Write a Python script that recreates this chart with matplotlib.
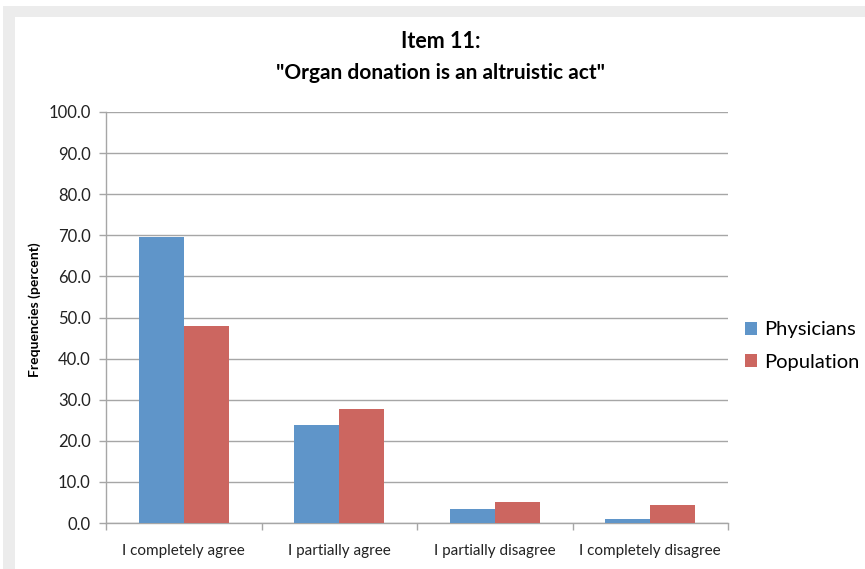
import matplotlib
matplotlib.use("Agg")
import matplotlib.pyplot as plt
import numpy as np
from matplotlib.patches import Rectangle, Patch

# Data
categories = ["I completely agree", "I partially agree",
              "I partially disagree", "I completely disagree"]
physicians = [69.7, 23.9, 3.3, 0.9]
population = [47.9, 27.7, 5.1, 4.3]
series_names = ["Physicians", "Population"]
y_ticks = [0, 10, 20, 30, 40, 50, 60, 70, 80, 90, 100]

BLUE = "#5f95c9"
RED = "#cc6660"
GRID = "#a6a6a6"

plt.rcParams["font.family"] = ["Lato", "DejaVu Sans"]

W, H = 865, 569
fig = plt.figure(figsize=(W / 100, H / 100), dpi=100)
fig.patch.set_facecolor("white")

# grey frame at top/left of the white panel
fig.patches.append(Rectangle((3 / W, 0), 1.1, 1 - 6 / H, transform=fig.transFigure,
                             facecolor="#ececec", edgecolor="none", zorder=-2))
fig.patches.append(Rectangle((15 / W, -0.1), 1.1, 1.1 - 17 / H, transform=fig.transFigure,
                             facecolor="white", edgecolor="none", zorder=-1))

ax = fig.add_axes([106 / W, 46 / H, (728 - 106) / W, (523 - 112) / H])
ax.set_facecolor("none")

x = np.arange(len(categories))
width = 0.29
ax.bar(x - width / 2, physicians, width, color=BLUE, zorder=3)
ax.bar(x + width / 2, population, width, color=RED, zorder=3)

ax.set_xlim(-0.5, len(categories) - 0.5)
ax.set_ylim(0, 100)
ax.set_yticks(y_ticks)
ax.set_yticklabels([f"{v:.1f}" for v in y_ticks], fontsize=12, color="#222222")
ax.yaxis.grid(True, color=GRID, linewidth=1, zorder=0)

# category labels between boundary ticks
ax.set_xticks(x)
ax.set_xticklabels(categories, fontsize=11, color="#222222")
ax.tick_params(axis="x", length=0, pad=15)
ax.set_xticks(np.arange(len(categories) + 1) - 0.5, minor=True)
ax.tick_params(axis="x", which="minor", length=5, color=GRID, width=1)
ax.tick_params(axis="y", length=5, color=GRID, width=1, pad=6)

for side in ["top", "right"]:
    ax.spines[side].set_visible(False)
ax.spines["left"].set_color(GRID)
ax.spines["bottom"].set_color(GRID)
ax.spines["left"].set_linewidth(1)
ax.spines["bottom"].set_linewidth(1)

ax.set_ylabel("Frequencies (percent)", fontsize=10, fontweight="bold")
ax.yaxis.set_label_coords(-0.104, 0.52)

fig.text(441 / W, 1 - 42 / H, "Item 11:", ha="center", va="center",
         fontsize=15.5, fontweight="bold")
fig.text(441 / W, 1 - 73 / H, "\"Organ donation is an altruistic act\"", ha="center",
         va="center", fontsize=15, fontweight="bold")

handles = [Patch(facecolor=BLUE, label=series_names[0]),
           Patch(facecolor=RED, label=series_names[1])]
fig.legend(handles=handles, loc="center left", bbox_to_anchor=(737 / W, 1 - 346 / H),
           frameon=False, fontsize=14.5, handlelength=0.6, handleheight=0.6,
           handletextpad=0.35, labelspacing=0.75, borderaxespad=0)

fig.savefig("out.png", dpi=100)
